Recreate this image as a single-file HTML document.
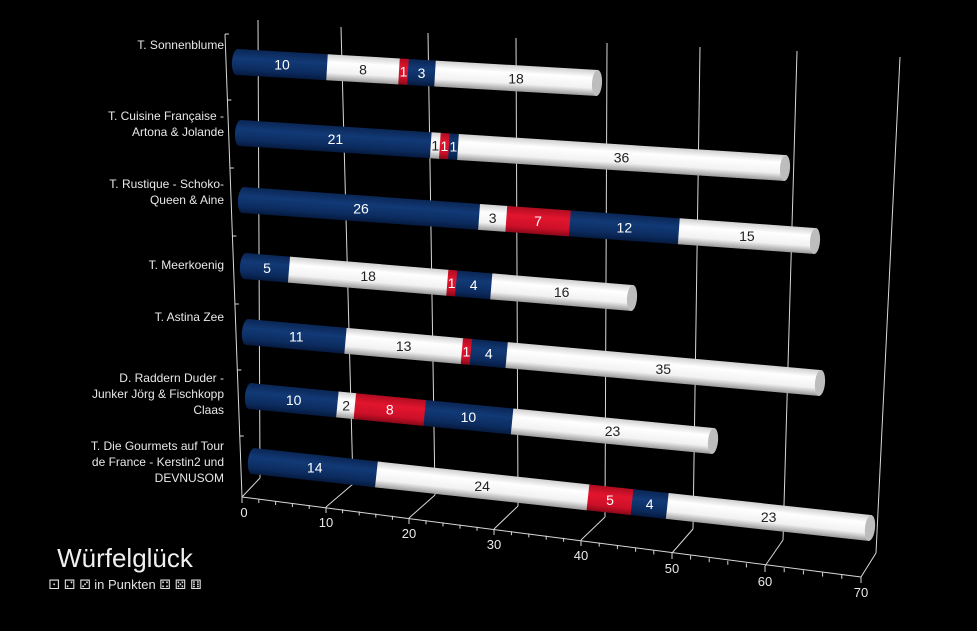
<!DOCTYPE html>
<html><head><meta charset="utf-8"><style>
html,body{margin:0;padding:0;background:#000;width:977px;height:631px;overflow:hidden}
svg{display:block}
text{font-family:"Liberation Sans","DejaVu Sans",sans-serif}
</style></head><body>
<svg width="977" height="631" viewBox="0 0 977 631" xmlns="http://www.w3.org/2000/svg">
<defs>
<linearGradient id="gw" x1="0" y1="0" x2="0" y2="1"><stop offset="0" stop-color="#cfcfcf"/><stop offset="0.3" stop-color="#ffffff"/><stop offset="0.7" stop-color="#f2f2f2"/><stop offset="1" stop-color="#9a9a9a"/></linearGradient>
<linearGradient id="gn" x1="0" y1="0" x2="0" y2="1"><stop offset="0" stop-color="#0a2656"/><stop offset="0.35" stop-color="#123a76"/><stop offset="0.75" stop-color="#0c2c60"/><stop offset="1" stop-color="#061a40"/></linearGradient>
<linearGradient id="gr" x1="0" y1="0" x2="0" y2="1"><stop offset="0" stop-color="#b00c20"/><stop offset="0.35" stop-color="#e2152e"/><stop offset="0.75" stop-color="#cc1028"/><stop offset="1" stop-color="#8a0818"/></linearGradient>
</defs>
<g stroke="#d8d8d8" stroke-width="1" fill="none" id="grid"></g>
<g id="bars"></g>
<g fill="#e8e8e8" font-size="12" text-anchor="end">
<text x="224" y="49">T. Sonnenblume</text>
<text x="224" y="120">T. Cuisine Française -</text><text x="224" y="136">Artona &amp; Jolande</text>
<text x="224" y="188">T. Rustique - Schoko-</text><text x="224" y="204">Queen &amp; Aine</text>
<text x="224" y="269">T. Meerkoenig</text>
<text x="224" y="321">T. Astina Zee</text>
<text x="224" y="382">D. Raddern Duder -</text><text x="224" y="398">Junker Jörg &amp; Fischkopp</text><text x="224" y="414">Claas</text>
<text x="224" y="450">T. Die Gourmets auf Tour</text><text x="224" y="466">de France - Kerstin2 und</text><text x="224" y="482">DEVNUSOM</text>
</g>
<text x="125" y="567" fill="#f0f0f0" font-size="26" text-anchor="middle">Würfelglück</text>
<text x="125" y="589" fill="#e0e0e0" font-size="13" text-anchor="middle"><tspan font-family="DejaVu Sans">⚀ ⚁ ⚂</tspan> in Punkten <tspan font-family="DejaVu Sans">⚃ ⚄ ⚅</tspan></text>
</svg>
<script>
var NS="http://www.w3.org/2000/svg";
function el(p,n,a,t){var e=document.createElementNS(NS,n);for(var k in a)e.setAttribute(k,a[k]);if(t!=null)e.textContent=t;p.appendChild(e);return e;}
var g=document.getElementById('grid');
var A=[[242,497],[326,507],[409,518],[494,529],[581,540],[672,553],[765,566],[861,577]];
var B=[[260,478],[353,484],[435,495],[518,506],[605,517],[693,529],[783,540],[876,553]];
var T=[[258,20],[341,27],[428,33],[516,38],[607,43],[700,47],[797,51],[900,57]];
var svg=document.querySelector('svg');
for(var i=0;i<8;i++){
 var a=A[i],b=B[i];
 el(g,'line',{x1:a[0],y1:a[1],x2:b[0],y2:b[1]});
 el(g,'line',{x1:b[0],y1:b[1],x2:T[i][0],y2:T[i][1]});
 el(svg,'text',{x:a[0]+(i==0?2:0),y:a[1]+20,fill:'#e8e8e8','font-size':13,'text-anchor':'middle'},String(i*10));
 if(i<7){for(var j=1;j<5;j++){var x=a[0]+(A[i+1][0]-a[0])*j/5,y=a[1]+(A[i+1][1]-a[1])*j/5;el(g,'line',{x1:x,y1:y,x2:x,y2:y+4});}}
 el(g,'line',{x1:a[0],y1:a[1],x2:a[0],y2:a[1]+6});
}
el(g,'line',{x1:242,y1:497,x2:861,y2:577});
el(g,'line',{x1:225,y1:34,x2:242,y2:497});
el(g,'line',{x1:225,y1:34,x2:229,y2:34});
[100,168,236,304,370,436].forEach(function(y){var x=225+(y-34)*17/463;el(g,'line',{x1:x,y1:y,x2:x+4,y2:y});});
var rows=[[237,62,597,83,[10,8,1,3,18]],[240,133,785,168,[21,1,1,1,36]],[243,200,815,241,[26,3,7,12,15]],[245,266,632,298,[5,18,1,4,16]],[247,332,820,383,[11,13,1,4,35]],[250,396,713,441,[10,2,8,10,23]],[253,461,870,528,[14,24,5,4,23]]];
var fills=['url(#gn)','url(#gw)','url(#gr)','url(#gn)','url(#gw)'];
var tc=['#fff','#222','#fff','#fff','#222'];
var bars=document.getElementById('bars');
rows.forEach(function(r){
 var dx=r[2]-r[0],dy=r[3]-r[1],L=Math.sqrt(dx*dx+dy*dy),ang=Math.atan2(dy,dx)*180/Math.PI;
 var tot=r[4].reduce(function(s,v){return s+v},0);
 var gg=el(bars,'g',{transform:'translate('+r[0]+','+r[1]+') rotate('+ang+')'});
 var h=26,pos=0;
 el(gg,'ellipse',{cx:0,cy:0,rx:5,ry:h/2,fill:fills[0]});
 r[4].forEach(function(v,k){
  var w=v/tot*L;
  el(gg,'rect',{x:pos,y:-h/2,width:w+0.6,height:h,fill:fills[k]});
  pos+=w;
 });
 el(gg,'ellipse',{cx:L,cy:0,rx:5,ry:h/2,fill:'#bdbdbd'});
 pos=0;
 r[4].forEach(function(v,k){
  var w=v/tot*L;
  el(gg,'text',{x:pos+w/2,y:5,'font-size':14,'text-anchor':'middle',fill:tc[k],transform:'rotate('+(-ang)+' '+(pos+w/2)+' 0)'},String(v));
  pos+=w;
 });
});
</script>
</body></html>
